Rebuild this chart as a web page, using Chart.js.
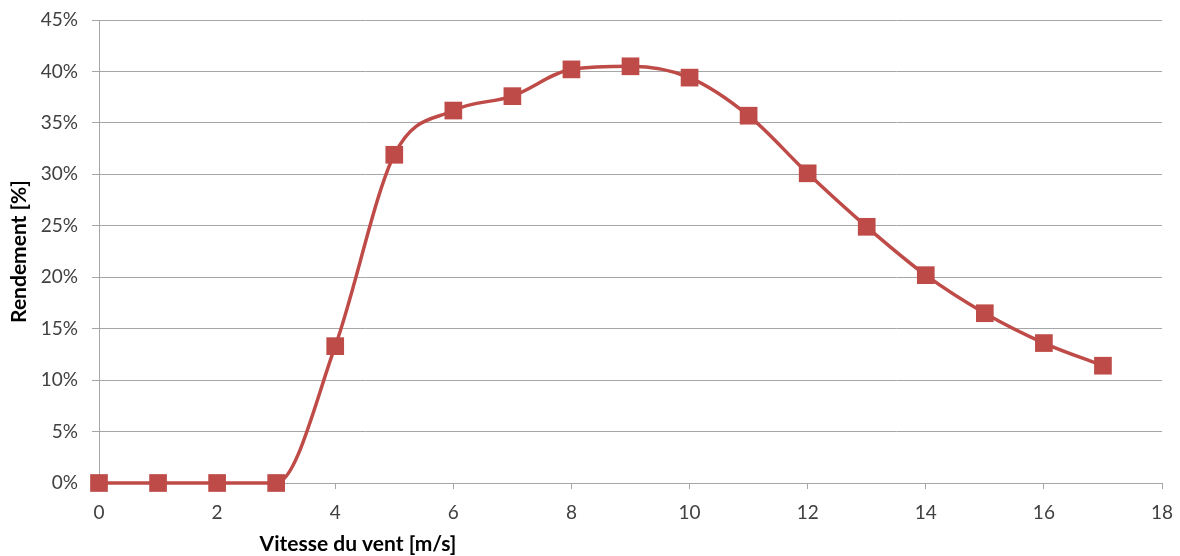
<!DOCTYPE html>
<html>
<head>
<meta charset="utf-8">
<script src="https://cdn.jsdelivr.net/npm/chart.js@4"></script>
<style>
  html, body { margin: 0; padding: 0; background: #fff; }
  #wrap { width: 1180px; height: 556px; }
</style>
</head>
<body>
<div id="wrap"><canvas id="c" width="1180" height="556"></canvas></div>
<script>
// Wind speed (m/s) and efficiency (%)
const windSpeed = [0, 1, 2, 3, 4, 5, 6, 7, 8, 9, 10, 11, 12, 13, 14, 15, 16, 17];
const efficiency = [0, 0, 0, 0, 13.3, 31.9, 36.2, 37.6, 40.2, 40.5, 39.4, 35.7, 30.1, 24.9, 20.2, 16.5, 13.6, 11.4];
const xTitle = 'Vitesse du vent [m/s]';
const yTitle = 'Rendement [%]';

const FONT = 'Lato, "Open Sans", sans-serif';
const TEXT = '#404040';
const GRID = '#A6A6A6';
const RED = '#BE4B48';

const points = windSpeed.map((x, i) => ({ x, y: efficiency[i] }));

// Axis titles drawn relative to the chart area
const axisTitles = {
  id: 'axisTitles',
  afterDraw(chart) {
    const { ctx, chartArea } = chart;
    ctx.save();
    ctx.fillStyle = '#000';
    ctx.font = 'bold 21px ' + FONT;
    ctx.textBaseline = 'middle';
    ctx.textAlign = 'center';
    ctx.fillText(xTitle, 358, 544);
    ctx.translate(19, (chartArea.top + chartArea.bottom) / 2);
    ctx.rotate(-Math.PI / 2);
    ctx.fillText(yTitle, 0, 0);
    ctx.restore();
  }
};

new Chart(document.getElementById('c'), {
  type: 'line',
  data: {
    datasets: [{
      data: points,
      borderColor: RED,
      backgroundColor: RED,
      borderWidth: 3.5,
      pointStyle: 'rect',
      pointRadius: 12.5,
      pointHoverRadius: 12.5,
      pointBorderWidth: 0,
      cubicInterpolationMode: 'monotone',
      clip: false
    }]
  },
  options: {
    responsive: false,
    animation: false,
    devicePixelRatio: 1,
    layout: { padding: { top: 20, right: 18, left: 0, bottom: 0 } },
    plugins: { legend: { display: false }, tooltip: { enabled: false } },
    scales: {
      x: {
        type: 'linear',
        min: 0,
        max: 18,
        afterFit(s) { s.height = 73; s.paddingLeft = 0; s.paddingRight = 0; },
        ticks: { stepSize: 2, color: TEXT, font: { family: FONT, size: 19 }, padding: 12 },
        grid: { drawOnChartArea: false, drawTicks: true, tickLength: 6, color: GRID },
        border: { color: GRID }
      },
      y: {
        min: 0,
        max: 45,
        afterFit(s) { s.width = 99; s.paddingTop = 0; s.paddingBottom = 0; },
        ticks: { stepSize: 5, color: TEXT, font: { family: FONT, size: 19 }, padding: 14,
                 callback: v => v + '%' },
        grid: { color: GRID, tickLength: 7 },
        border: { color: GRID }
      }
    }
  },
  plugins: [axisTitles]
});
</script>
</body>
</html>
